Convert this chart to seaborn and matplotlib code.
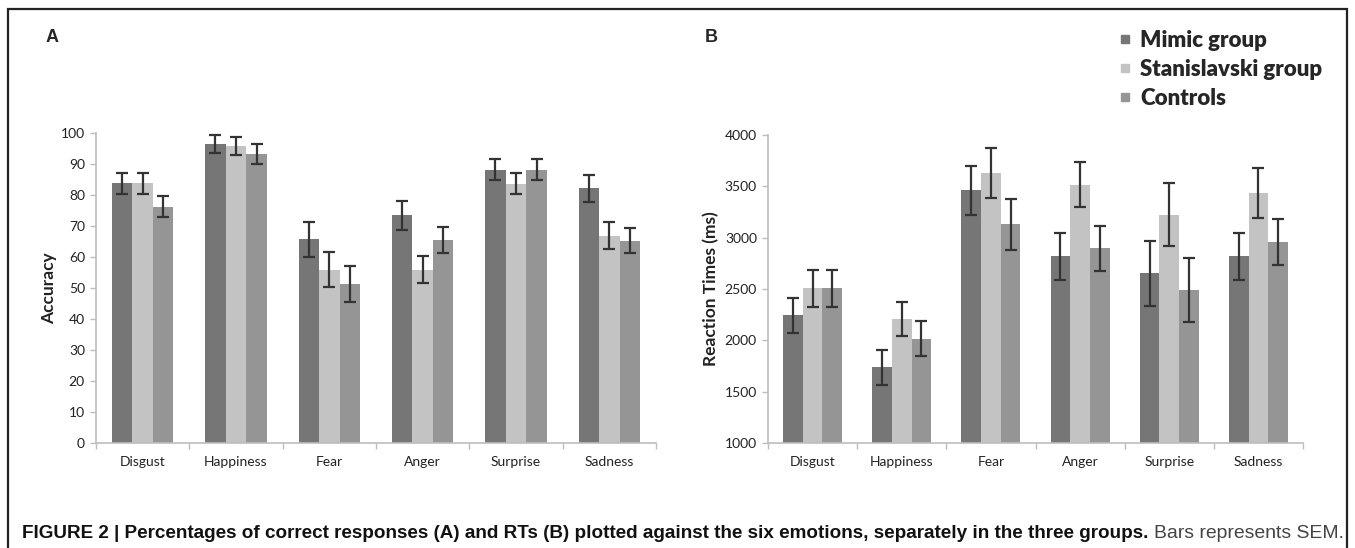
import numpy as np
import pandas as pd
import matplotlib
matplotlib.use("Agg")
import matplotlib.pyplot as plt
import seaborn as sns
from matplotlib.lines import Line2D
from matplotlib.patches import Rectangle

# ---------------- data ----------------
emotions = ["Disgust", "Happiness", "Fear", "Anger", "Surprise", "Sadness"]
groups = ["Mimic group", "Stanislavski group", "Controls"]

acc_mimic = [83.8, 96.4, 65.7, 73.4, 88.2, 82.2]
acc_stan = [83.8, 95.8, 55.9, 55.9, 83.7, 66.9]
acc_ctrl = [76.2, 93.3, 51.3, 65.5, 88.2, 65.2]
acc_err_mimic = [3.4, 3.0, 5.6, 4.6, 3.3, 4.4]
acc_err_stan = [3.4, 3.0, 5.7, 4.3, 3.3, 4.4]
acc_err_ctrl = [3.4, 3.2, 5.7, 4.3, 3.3, 4.0]

rt_mimic = [2245, 1738, 3460, 2820, 2652, 2820]
rt_stan = [2505, 2208, 3630, 3515, 3225, 3435]
rt_ctrl = [2505, 2015, 3130, 2895, 2490, 2960]
rt_err_mimic = [170, 170, 240, 230, 315, 230]
rt_err_stan = [180, 170, 240, 220, 310, 240]
rt_err_ctrl = [180, 170, 248, 220, 310, 225]

colors = ["#767676", "#c3c3c3", "#959595"]

# ---------------- figure ----------------
sns.set_theme(style="white")
plt.rcParams["font.family"] = ["Lato", "DejaVu Sans"]

fig = plt.figure(figsize=(13.55, 5.48), dpi=100)

# outer frame
frame = Rectangle((8 / 1355, -0.05), (1347 - 8) / 1355, 1 - 9 / 548 + 0.05,
                  transform=fig.transFigure, fill=False, edgecolor="#222222",
                  linewidth=1.6, clip_on=False)
fig.patches.append(frame)

axA = fig.add_axes([96 / 1355, 1 - 443 / 548, (656 - 96) / 1355, (443 - 133) / 548])
axB = fig.add_axes([768 / 1355, 1 - 443 / 548, (1303 - 768) / 1355, (443 - 135) / 548])


def long_df(vals_list):
    rows = []
    for g, vals in zip(groups, vals_list):
        for e, v in zip(emotions, vals):
            rows.append({"emotion": e, "group": g, "value": v})
    return pd.DataFrame(rows)


def draw(ax, vals_list, errs_list, ylim, yticks, ylabel, labelpad):
    df = long_df(vals_list)
    sns.barplot(data=df, x="emotion", y="value", hue="group", order=emotions,
                hue_order=groups, palette=colors, width=0.66, errorbar=None,
                saturation=1, ax=ax, legend=False, linewidth=0)
    # error bars at the bar centres
    for cont, errs, vals in zip(ax.containers, errs_list, vals_list):
        xs = [p.get_x() + p.get_width() / 2 for p in cont.patches]
        ax.errorbar(xs, vals, yerr=errs, fmt="none", ecolor="#333333",
                    elinewidth=1.6, capsize=4.5, capthick=1.6, zorder=5)
    ax.set_ylim(*ylim)
    ax.set_yticks(yticks)
    ax.set_xlim(-0.5, len(emotions) - 0.5)
    ax.set_xlabel("")
    ax.set_ylabel(ylabel, fontsize=12.5, fontweight="bold", color="#222222",
                  labelpad=labelpad)
    for s in ["top", "right"]:
        ax.spines[s].set_visible(False)
    for s in ["left", "bottom"]:
        ax.spines[s].set_color("#bdbdbd")
        ax.spines[s].set_linewidth(1.2)
    ax.tick_params(axis="y", which="major", length=4, width=1, color="#bdbdbd",
                   labelsize=10, labelcolor="#222222", direction="out", left=True, pad=4)
    ax.tick_params(axis="x", which="major", length=0, labelsize=10,
                   labelcolor="#222222", pad=9)
    ax.set_xticks(np.arange(-0.5, len(emotions) + 0.5, 1), minor=True)
    ax.tick_params(axis="x", which="minor", length=4, width=1, color="#bdbdbd",
                   direction="out", bottom=True)


draw(axA, [acc_mimic, acc_stan, acc_ctrl], [acc_err_mimic, acc_err_stan, acc_err_ctrl],
     (0, 100), np.arange(0, 101, 10), "Accuracy", 3)
draw(axB, [rt_mimic, rt_stan, rt_ctrl], [rt_err_mimic, rt_err_stan, rt_err_ctrl],
     (1000, 4000), np.arange(1000, 4001, 500), "Reaction Times (ms)", 4)

# panel letters
fig.text(46 / 1355, 1 - 37 / 548, "A", fontsize=13, fontweight="bold",
         family=["Liberation Sans", "DejaVu Sans"], va="center", ha="left")
fig.text(705 / 1355, 1 - 37 / 548, "B", fontsize=13, fontweight="bold",
         family=["Liberation Sans", "DejaVu Sans"], va="center", ha="left")

# legend
handles = [Line2D([0], [0], marker="s", linestyle="none", markersize=6,
                  markerfacecolor=c, markeredgecolor=c) for c in colors]
fig.legend(handles, groups, loc="upper left",
           bbox_to_anchor=(1116 / 1355, 1 - 30 / 548), bbox_transform=fig.transFigure,
           frameon=False, handlelength=0.8, handletextpad=0.3, labelspacing=0.35,
           borderaxespad=0, borderpad=0,
           prop={"family": ["Lato", "DejaVu Sans"], "weight": "heavy", "size": 16})

# caption
cap_fam = ["Liberation Sans Narrow", "Liberation Sans", "DejaVu Sans"]
bold_txt = ("FIGURE 2 | Percentages of correct responses (A) and RTs (B) plotted against "
            "the six emotions, separately in the three groups.")
t1 = fig.text(22 / 1355, 1 - 533 / 548, bold_txt, fontsize=11.5, fontweight="bold",
              family=cap_fam, va="center", ha="left", color="#111111")
fig.canvas.draw()
r = fig.canvas.get_renderer()
bb = t1.get_window_extent(renderer=r)
t1.set_fontsize(11.5 * (1155 - 22) / bb.width)
fig.canvas.draw()
bb = t1.get_window_extent(renderer=r)
x2 = bb.x1 + 6
t2 = fig.text(x2 / 1355, 1 - 533 / 548, "Bars represents SEM.",
              fontsize=11.5, family=cap_fam, va="center", ha="left", color="#444444")
fig.canvas.draw()
bb2 = t2.get_window_extent(renderer=r)
t2.set_fontsize(11.5 * (1344 - x2) / bb2.width)

fig.savefig("out.png", dpi=100)
